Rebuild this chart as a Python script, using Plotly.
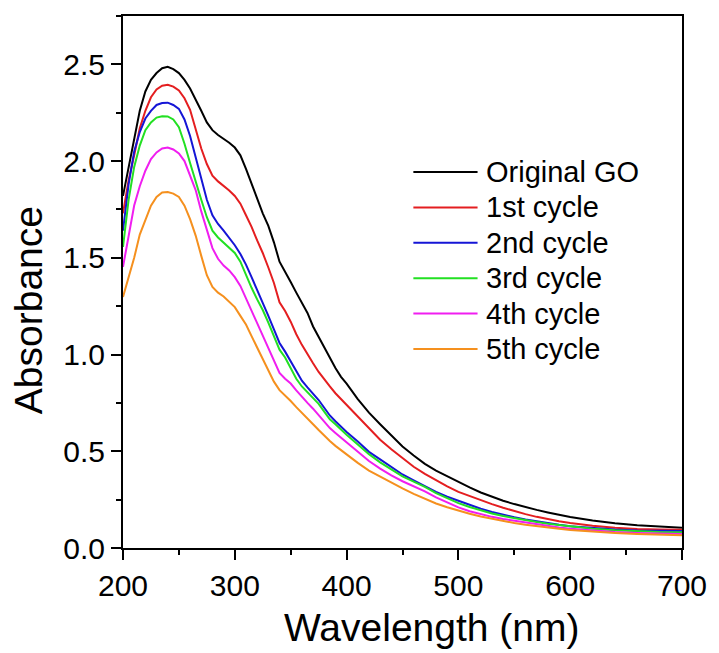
import plotly.graph_objects as go

# ---------------- data ----------------
wavelength = [200, 205, 210, 215, 220, 225, 230, 235, 240, 245, 250, 255, 260, 265, 270, 275, 280, 285, 290, 295,
              300, 305, 310, 315, 320, 325, 330, 335, 340, 345, 350, 355, 360, 365, 370, 375, 380, 385, 390, 395,
              400, 410, 420, 430, 440, 450, 460, 470, 480, 490, 500, 510, 520, 530, 540, 550, 560, 570, 580, 590,
              600, 620, 640, 660, 680, 700]

original_go = [1.82, 1.97, 2.10, 2.26, 2.36, 2.42, 2.455, 2.48, 2.487, 2.475, 2.455, 2.42, 2.375, 2.32, 2.26, 2.20, 2.16, 2.135, 2.115, 2.095,
               2.07, 2.03, 1.96, 1.88, 1.80, 1.73, 1.665, 1.58, 1.48, 1.43, 1.375, 1.32, 1.265, 1.215, 1.145, 1.09, 1.035, 0.98, 0.93, 0.885,
               0.85, 0.77, 0.70, 0.64, 0.58, 0.525, 0.478, 0.435, 0.40, 0.37, 0.342, 0.313, 0.287, 0.265, 0.244, 0.227, 0.211, 0.197, 0.184, 0.172,
               0.16, 0.142, 0.128, 0.118, 0.111, 0.105]

cycle_1 = [1.73, 1.90, 2.03, 2.17, 2.26, 2.33, 2.37, 2.39, 2.395, 2.385, 2.365, 2.325, 2.265, 2.17, 2.065, 1.985, 1.925, 1.895, 1.872, 1.848,
           1.82, 1.78, 1.72, 1.66, 1.59, 1.525, 1.45, 1.37, 1.27, 1.225, 1.17, 1.105, 1.05, 1.00, 0.955, 0.91, 0.87, 0.835, 0.80, 0.77,
           0.74, 0.675, 0.615, 0.56, 0.51, 0.465, 0.42, 0.383, 0.35, 0.318, 0.29, 0.268, 0.246, 0.227, 0.208, 0.19, 0.175, 0.161, 0.149, 0.138,
           0.129, 0.115, 0.105, 0.098, 0.095, 0.094]

cycle_2 = [1.64, 1.88, 2.05, 2.15, 2.22, 2.26, 2.29, 2.30, 2.302, 2.29, 2.27, 2.215, 2.13, 2.02, 1.90, 1.80, 1.72, 1.675, 1.64, 1.605,
           1.565, 1.52, 1.465, 1.40, 1.335, 1.27, 1.20, 1.13, 1.06, 1.015, 0.965, 0.91, 0.865, 0.83, 0.80, 0.765, 0.725, 0.685, 0.655, 0.625,
           0.60, 0.55, 0.497, 0.458, 0.418, 0.38, 0.35, 0.32, 0.29, 0.265, 0.243, 0.222, 0.203, 0.186, 0.171, 0.159, 0.147, 0.137, 0.128, 0.120,
           0.113, 0.103, 0.096, 0.091, 0.089, 0.088]

cycle_3 = [1.556, 1.80, 1.97, 2.08, 2.16, 2.20, 2.225, 2.232, 2.231, 2.215, 2.175, 2.09, 1.99, 1.89, 1.80, 1.71, 1.64, 1.605, 1.58, 1.555,
           1.525, 1.48, 1.41, 1.345, 1.285, 1.23, 1.165, 1.09, 1.025, 0.985, 0.93, 0.875, 0.835, 0.805, 0.78, 0.745, 0.705, 0.665, 0.64, 0.61,
           0.585, 0.535, 0.485, 0.443, 0.405, 0.37, 0.343, 0.316, 0.284, 0.256, 0.232, 0.212, 0.194, 0.178, 0.165, 0.154, 0.143, 0.134, 0.125, 0.118,
           0.111, 0.100, 0.092, 0.086, 0.083, 0.082]

cycle_4 = [1.453, 1.62, 1.77, 1.87, 1.95, 2.01, 2.045, 2.065, 2.07, 2.06, 2.04, 2.00, 1.93, 1.85, 1.74, 1.64, 1.55, 1.495, 1.46, 1.435,
           1.40, 1.355, 1.29, 1.23, 1.16, 1.10, 1.03, 0.97, 0.905, 0.875, 0.85, 0.815, 0.78, 0.75, 0.72, 0.685, 0.65, 0.62, 0.595, 0.57,
           0.545, 0.495, 0.45, 0.41, 0.375, 0.345, 0.32, 0.293, 0.262, 0.234, 0.21, 0.19, 0.175, 0.161, 0.15, 0.141, 0.131, 0.122, 0.113, 0.106,
           0.100, 0.09, 0.083, 0.078, 0.075, 0.073]

cycle_5 = [1.298, 1.40, 1.50, 1.62, 1.70, 1.77, 1.815, 1.838, 1.84, 1.832, 1.815, 1.77, 1.70, 1.615, 1.51, 1.41, 1.35, 1.32, 1.30, 1.275,
           1.245, 1.20, 1.155, 1.095, 1.035, 0.975, 0.915, 0.86, 0.816, 0.79, 0.76, 0.728, 0.70, 0.672, 0.64, 0.61, 0.58, 0.553, 0.528, 0.505,
           0.485, 0.44, 0.40, 0.368, 0.337, 0.308, 0.28, 0.254, 0.23, 0.211, 0.193, 0.177, 0.163, 0.151, 0.139, 0.129, 0.12, 0.112, 0.105, 0.099,
           0.093, 0.084, 0.078, 0.073, 0.069, 0.066]

series_names = ["Original GO", "1st cycle", "2nd cycle", "3rd cycle", "4th cycle", "5th cycle"]
series_values = [original_go, cycle_1, cycle_2, cycle_3, cycle_4, cycle_5]
series_colors = ["#000000", "#E41E20", "#1515D6", "#22E022", "#F01EF0", "#F5901E"]

x_ticks = [200, 300, 400, 500, 600, 700]
y_ticks = [0.0, 0.5, 1.0, 1.5, 2.0, 2.5]

FONT = "Liberation Sans, Arial, Helvetica, sans-serif"

fig = go.Figure()
for name, vals, col in zip(series_names, series_values, series_colors):
    fig.add_trace(go.Scatter(x=wavelength, y=vals, mode="lines", name=name,
                             line=dict(color=col, width=2), showlegend=False))

# geometry of plot area in pixels
W, H = 719, 653
L, R, T, B = 123, 30, 16, 105
pw, ph = W - L - R, H - T - B

def px_to_paper_x(px):
    return (px - L) / pw

def px_to_paper_y(py):
    return (H - B - py) / ph

# manual legend (line sample + label)
leg_top = 172
leg_step = 35.4
for i, (name, col) in enumerate(zip(series_names, series_colors)):
    yy = px_to_paper_y(leg_top + i * leg_step)
    fig.add_shape(type="line", xref="paper", yref="paper",
                  x0=px_to_paper_x(417), x1=px_to_paper_x(482), y0=yy, y1=yy,
                  line=dict(color=col, width=2))
    fig.add_annotation(xref="paper", yref="paper", x=px_to_paper_x(489), y=yy,
                       text=name, showarrow=False, xanchor="left", yanchor="middle",
                       font=dict(family=FONT, size=29, color="black"))

# axis titles
fig.add_annotation(xref="paper", yref="paper", x=px_to_paper_x(436), y=px_to_paper_y(627),
                   text="Wavelength (nm)", showarrow=False, xanchor="center", yanchor="middle",
                   font=dict(family=FONT, size=39, color="black"))
fig.add_annotation(xref="paper", yref="paper", x=px_to_paper_x(28), y=px_to_paper_y(310),
                   text="Absorbance", showarrow=False, textangle=-90, xanchor="center", yanchor="middle",
                   font=dict(family=FONT, size=39, color="black"))

axis_common = dict(showline=True, linecolor="black", linewidth=2, mirror=True,
                   ticks="outside", ticklen=10, tickwidth=2, tickcolor="black",
                   showgrid=False, zeroline=False,
                   tickfont=dict(family=FONT, size=30, color="black"))

fig.update_xaxes(range=[200, 700], tickvals=x_ticks, ticktext=[str(v) for v in x_ticks],
                 minor=dict(dtick=50, ticks="outside", ticklen=5, tickwidth=2, tickcolor="black", showgrid=False),
                 **axis_common)
fig.update_yaxes(range=[0, 2.75], tickvals=y_ticks, ticktext=[f"{v:.1f}" for v in y_ticks],
                 minor=dict(dtick=0.25, ticks="outside", ticklen=5, tickwidth=2, tickcolor="black", showgrid=False),
                 **axis_common)

fig.update_layout(width=W, height=H, margin=dict(l=L, r=R, t=T, b=B),
                  paper_bgcolor="white", plot_bgcolor="white",
                  font=dict(family=FONT, color="black"), showlegend=False)

fig.write_html("out.html")
